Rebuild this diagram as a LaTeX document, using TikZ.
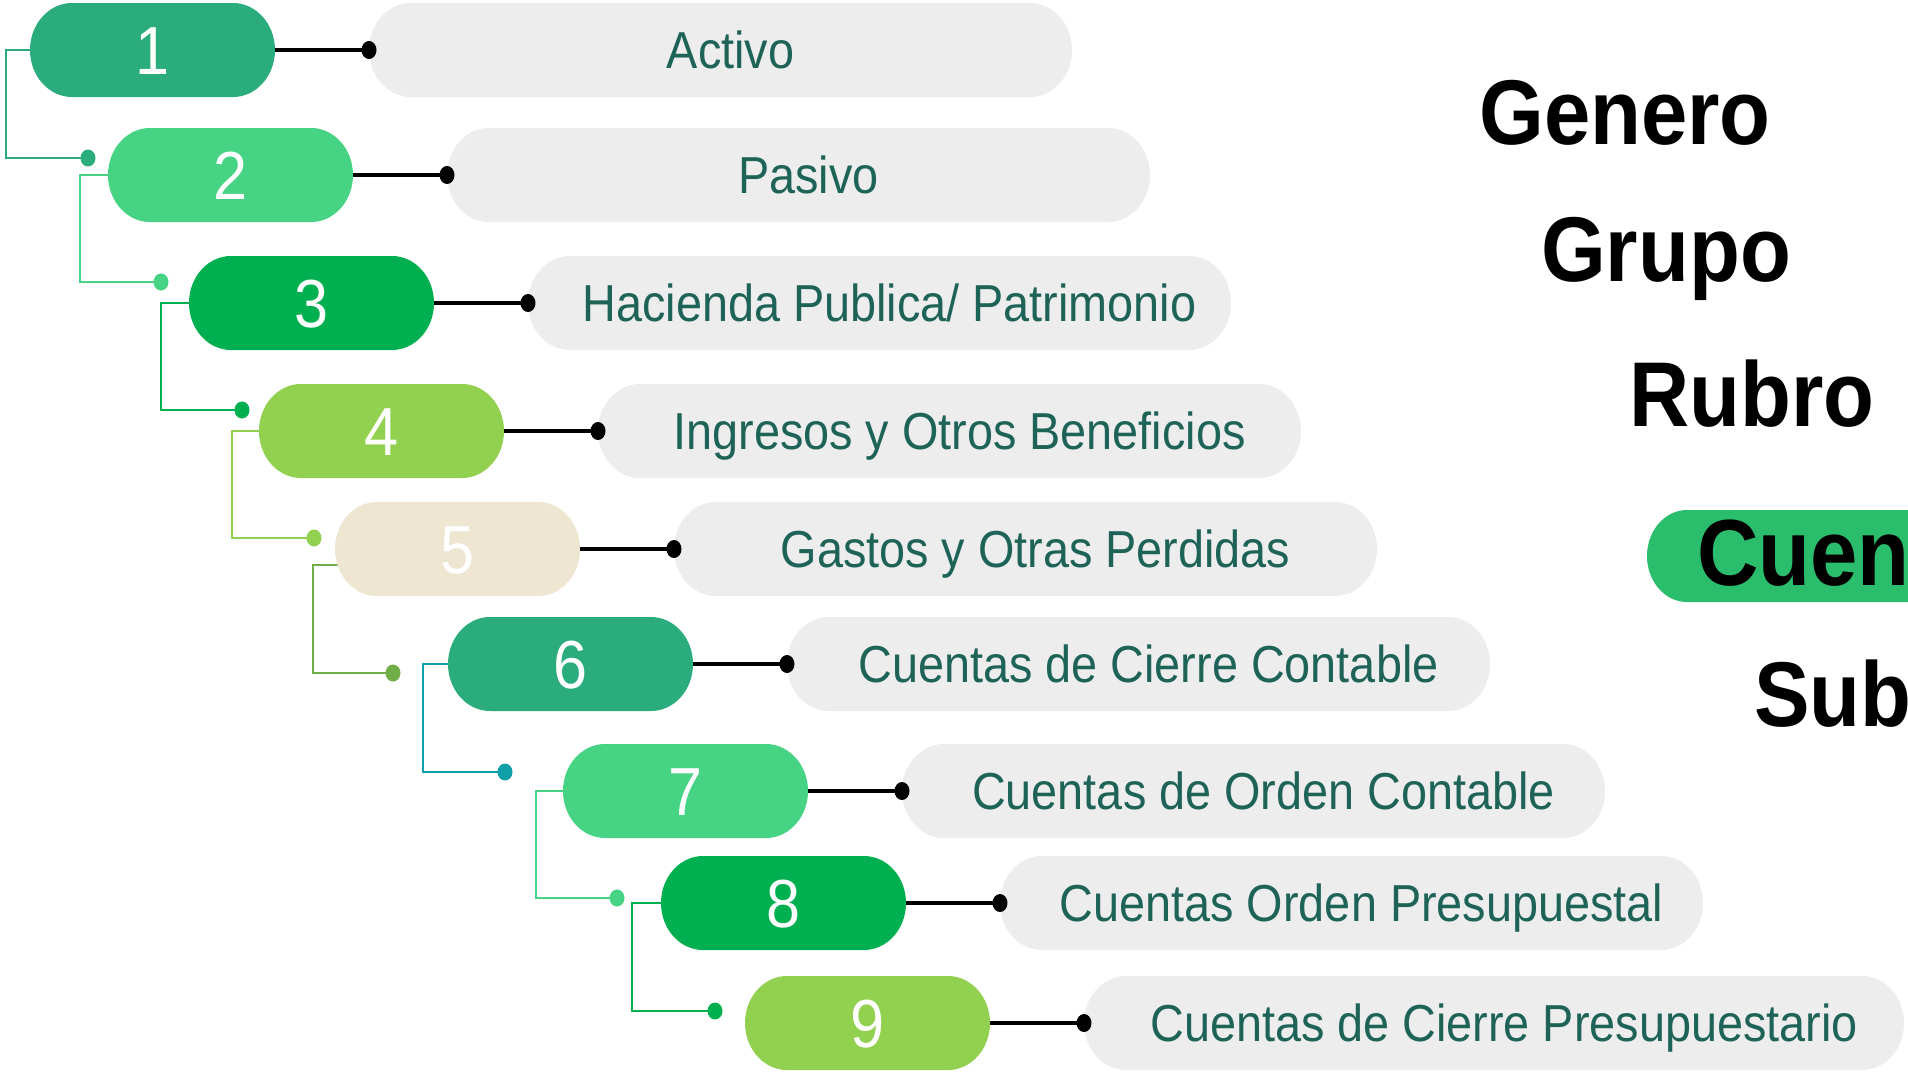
\documentclass[tikz,border=0pt]{standalone}
\usepackage{fontspec}
\setmainfont{Liberation Sans}
\newfontfamily\sqfont[FakeStretch=0.9]{Liberation Sans}
\newfontfamily\lblfont[FakeStretch=0.905]{Liberation Sans}
\definecolor{cA}{HTML}{2BAC7C}
\definecolor{cB}{HTML}{46D383}
\definecolor{cC}{HTML}{00B050}
\definecolor{cD}{HTML}{92D050}
\definecolor{cE}{HTML}{EFE6D2}
\definecolor{cgray}{HTML}{EDEDED}
\definecolor{txt}{HTML}{1E6358}
\definecolor{olive}{HTML}{70AD47}
\definecolor{tealc}{HTML}{0FA0AA}
\definecolor{cuenc}{HTML}{2ABD6C}
\pgfdeclarelayer{bg}
\pgfdeclarelayer{pill}
\pgfsetlayers{bg,pill,main}
\newcommand\pillfill[4]{%
  \begin{pgfonlayer}{pill}
  \fill[#2] ([xshift=#3]#1.north west) -- ([xshift=-#3]#1.north east)
    arc[start angle=90,end angle=-90,x radius=#3,y radius=#4]
    -- ([xshift=#3]#1.south west)
    arc[start angle=270,end angle=90,x radius=#3,y radius=#4] -- cycle;
  \end{pgfonlayer}}
\tikzset{
  num/.style={minimum width=245pt, minimum height=94pt, inner sep=0pt, outer sep=0pt,
    text=white, font=\sqfont\fontsize{68}{68}\selectfont, text height=48.7pt, text depth=0pt},
  lab/.style={minimum width=703pt, minimum height=94pt, inner sep=0pt, outer sep=0pt,
    text=txt, font=\sqfont\fontsize{52}{52}\selectfont, text height=37.2pt, text depth=0pt,
    execute at begin node={\hspace*{20pt}}},
  blk/.style={line width=3.5pt, black},
  tree/.style={line width=2.5pt},
  big/.style={font=\lblfont\bfseries\fontsize{92}{92}\selectfont, inner sep=0pt, anchor=base, text=black},
}
\begin{document}
\begin{tikzpicture}[x=1pt,y=1pt]
\useasboundingbox (0,0) rectangle (1908,-1074);
\begin{pgfonlayer}{bg}
\fill[white] (0,0) rectangle (1908,-1074);
\end{pgfonlayer}

% numbered pills
\node[num] (n1) at (152.5,-50) {1};
\node[num] (n2) at (230.5,-175) {2};
\node[num] (n3) at (311.5,-303) {3};
\node[num] (n4) at (381.5,-431) {4};
\node[num] (n5) at (457.5,-549) {5};
\node[num] (n6) at (570.5,-664) {6};
\node[num] (n7) at (685.5,-791) {7};
\node[num] (n8) at (783.5,-903) {8};
\node[num] (n9) at (867.5,-1023) {9};

% label pills
\node[lab] (g1) at (720.5,-50) {Activo};
\node[lab] (g2) at (798.5,-175) {Pasivo};
\node[lab] (g3) at (879.5,-303) {Hacienda Publica/ Patrimonio};
\node[lab] (g4) at (949.5,-431) {Ingresos y Otros Beneficios};
\node[lab] (g5) at (1025.5,-549) {Gastos y Otras Perdidas};
\node[lab] (g6) at (1138.5,-664) {Cuentas de Cierre Contable};
\node[lab] (g7) at (1253.5,-791) {Cuentas de Orden Contable};
\node[lab] (g8) at (1351.5,-903) {Cuentas Orden Presupuestal};
\node[lab, minimum width=820pt] (g9) at (1494,-1023) {Cuentas de Cierre Presupuestario};

\pillfill{n1}{cA}{42pt}{47pt}
\pillfill{n2}{cB}{42pt}{47pt}
\pillfill{n3}{cC}{42pt}{47pt}
\pillfill{n4}{cD}{42pt}{47pt}
\pillfill{n5}{cE}{42pt}{47pt}
\pillfill{n6}{cA}{42pt}{47pt}
\pillfill{n7}{cB}{42pt}{47pt}
\pillfill{n8}{cC}{42pt}{47pt}
\pillfill{n9}{cD}{42pt}{47pt}
\foreach \g in {g1,g2,g3,g4,g5,g6,g7,g8,g9}{\pillfill{\g}{cgray}{42pt}{47pt}}

% tree connectors
\coordinate (t1) at (88,-158);
\coordinate (t2) at (161,-282);
\coordinate (t3) at (242,-410);
\coordinate (t4) at (314,-538);
\coordinate (t5) at (393,-673);
\coordinate (t6) at (505,-772);
\coordinate (t7) at (617,-898);
\coordinate (t8) at (715,-1011);
\begin{pgfonlayer}{bg}
\draw[tree,cA] ([xshift=8pt]n1.west) -- ++(-32,0) |- (t1);
\fill[cA] (t1) ellipse[x radius=7.5pt,y radius=8.5pt];
\draw[tree,cB] ([xshift=8pt]n2.west) -- ++(-36,0) |- (t2);
\fill[cB] (t2) ellipse[x radius=7.5pt,y radius=8.5pt];
\draw[tree,cC] ([xshift=8pt]n3.west) -- ++(-36,0) |- (t3);
\fill[cC] (t3) ellipse[x radius=7.5pt,y radius=8.5pt];
\draw[tree,cD] ([xshift=8pt]n4.west) -- ++(-35,0) |- (t4);
\fill[cD] (t4) ellipse[x radius=7.5pt,y radius=8.5pt];
\draw[tree,olive] ([xshift=8pt,yshift=-16pt]n5.west) -- ++(-30,0) |- (t5);
\fill[olive] (t5) ellipse[x radius=7.5pt,y radius=8.5pt];
\draw[tree,tealc] ([xshift=8pt]n6.west) -- ++(-33,0) |- (t6);
\fill[tealc] (t6) ellipse[x radius=7.5pt,y radius=8.5pt];
\draw[tree,cB] ([xshift=8pt]n7.west) -- ++(-35,0) |- (t7);
\fill[cB] (t7) ellipse[x radius=7.5pt,y radius=8.5pt];
\draw[tree,cC] ([xshift=8pt]n8.west) -- ++(-37,0) |- (t8);
\fill[cC] (t8) ellipse[x radius=7.5pt,y radius=8.5pt];
\end{pgfonlayer}

% black connectors
\foreach \i in {1,...,9}{
  \draw[blk] (n\i.east) -- (g\i.west);
  \fill[black] (g\i.west) ellipse[x radius=7.5pt,y radius=9pt];
}

% right-hand labels
\node[big] (genero) at (1625,-144) {Genero};
\node[big] (grupo) at (1666,-281) {Grupo};
\node[big] (rubro) at (1752,-426) {Rubro};
\begin{scope}
\clip (0,0) rectangle (1908,-1074);
\fill[cuenc] (1960,-510) -- (1687,-510) arc[start angle=90,end angle=270,x radius=40pt,y radius=46pt] -- (1960,-602) -- cycle;
\node[big, anchor=base west, font=\lblfont\bfseries\fontsize{94}{94}\selectfont] (cuen) at (1697,-585) {Cuen};
\end{scope}
\node[big, anchor=base west] (sub) at (1754,-726) {Sub};
\end{tikzpicture}
\end{document}
